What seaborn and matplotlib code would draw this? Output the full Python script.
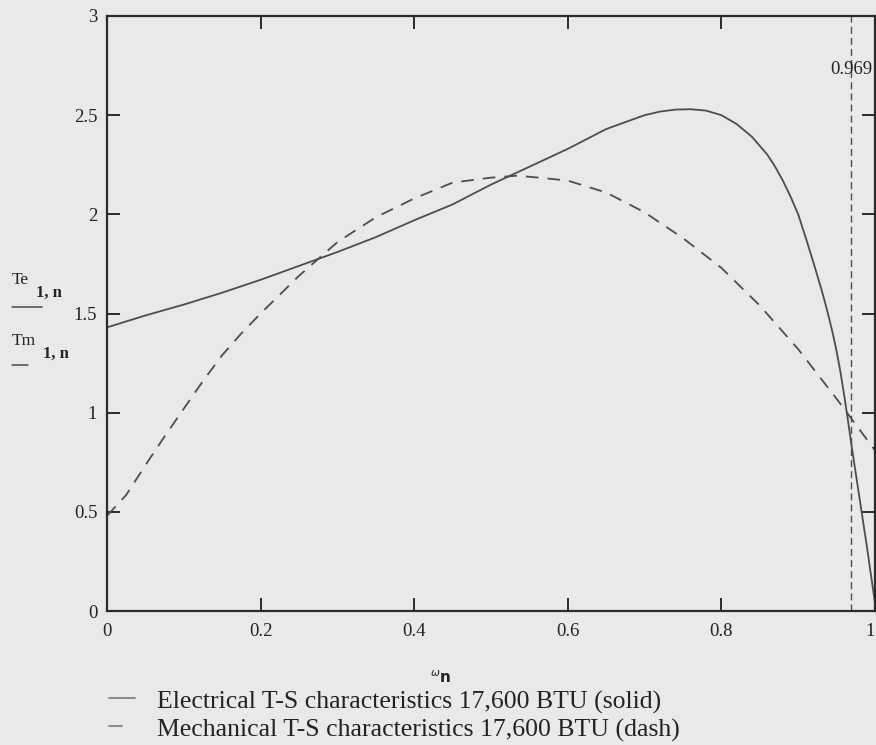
import numpy as np
import pandas as pd
import matplotlib
matplotlib.use("Agg")
import matplotlib.pyplot as plt
from matplotlib.lines import Line2D
import seaborn as sns

# Normalised speed and torque samples
speed_el = [0.0, 0.05, 0.1, 0.15, 0.2, 0.25, 0.3, 0.35, 0.4, 0.45, 0.5, 0.55,
            0.6, 0.65, 0.7, 0.72, 0.74, 0.76, 0.78, 0.8, 0.82, 0.84, 0.86,
            0.87, 0.88, 0.89, 0.9, 0.91, 0.92, 0.93, 0.935, 0.94, 0.945, 0.95,
            0.955, 0.96, 0.965, 0.97, 0.98, 0.99, 1.0]
torque_el = [1.43, 1.49, 1.545, 1.605, 1.67, 1.74, 1.81, 1.885, 1.97, 2.05,
             2.15, 2.24, 2.33, 2.43, 2.50, 2.518, 2.528, 2.53, 2.523, 2.50,
             2.455, 2.39, 2.30, 2.24, 2.17, 2.09, 2.00, 1.88, 1.755, 1.625,
             1.555, 1.48, 1.40, 1.31, 1.205, 1.085, 0.955, 0.82, 0.565, 0.31,
             0.04]

speed_mech = [0.0, 0.025, 0.05, 0.075, 0.1, 0.125, 0.15, 0.175, 0.2, 0.25, 0.3,
              0.35, 0.4, 0.45, 0.5, 0.535, 0.575, 0.6, 0.65, 0.7, 0.75, 0.8,
              0.85, 0.9, 0.95, 1.0]
torque_mech = [0.48, 0.585, 0.735, 0.88, 1.02, 1.16, 1.29, 1.40, 1.50, 1.69,
               1.86, 1.985, 2.08, 2.16, 2.185, 2.195, 2.18, 2.17, 2.11, 2.01,
               1.88, 1.73, 1.54, 1.32, 1.07, 0.81]

operating_speed = 0.969

x_ticks = [0, 0.2, 0.4, 0.6, 0.8, 1]
x_ticklabels = ["0", "0.2", "0.4", "0.6", "0.8", "1"]
y_ticks = [0, 0.5, 1, 1.5, 2, 2.5, 3]
y_ticklabels = ["0", "0.5", "1", "1.5", "2", "2.5", "3"]

legend_labels = ["Electrical T-S characteristics 17,600 BTU (solid)",
                 "Mechanical T-S characteristics 17,600 BTU (dash)"]

W, H = 876, 745
BG = "#e9e9e9"
INK = "#222222"
CURVE = "#4d4d4d"

sns.set_theme(style="white")
plt.rcParams["font.family"] = ["Liberation Serif", "DejaVu Serif"]
plt.rcParams["mathtext.fontset"] = "dejavusans"

fig = plt.figure(figsize=(W / 100, H / 100), dpi=100, facecolor=BG)


def fx(px):
    return px / W


def fy(py):
    return 1 - py / H


ax = fig.add_axes([fx(107), fy(611), fx(875) - fx(107), fy(16) - fy(611)])
ax.set_facecolor(BG)

df_el = pd.DataFrame({"speed": speed_el, "torque": torque_el})
df_mech = pd.DataFrame({"speed": speed_mech, "torque": torque_mech})

sns.lineplot(data=df_el, x="speed", y="torque", ax=ax, color=CURVE,
             linewidth=1.3, sort=False, estimator=None)
sns.lineplot(data=df_mech, x="speed", y="torque", ax=ax, color=CURVE,
             linewidth=1.3, sort=False, estimator=None,
             linestyle=(0, (7, 5)))

ax.axvline(operating_speed, color=CURVE, linewidth=1.0,
           linestyle=(0, (5, 3)))
ax.text(operating_speed, 2.73, f"{operating_speed:.3f}", ha="center",
        va="center", fontsize=13.5, color=INK)

ax.set_xlim(0, 1)
ax.set_ylim(0, 3)
ax.set_xticks(x_ticks)
ax.set_xticklabels(x_ticklabels)
ax.set_yticks(y_ticks)
ax.set_yticklabels(y_ticklabels)
ax.tick_params(direction="in", length=9.5, width=1.4, color="#2a2a2a",
               labelsize=13.5, labelcolor=INK, top=True, right=True,
               bottom=True, left=True)
ax.tick_params(axis="x", pad=9)
ax.tick_params(axis="y", pad=7)
# keep the last x label inside the canvas
ax.get_xticklabels()[-1].set_horizontalalignment("right")
for sp in ax.spines.values():
    sp.set_visible(True)
    sp.set_color("#2a2a2a")
    sp.set_linewidth(1.6)
ax.set_xlabel("")
ax.set_ylabel("")

# x-axis quantity name
fig.text(fx(441), fy(678), r"${}^{\omega}\mathbf{n}$", ha="center",
         va="center", fontsize=11, color=INK)

# stacked y-axis quantity names with their trace keys
fig.text(fx(12), fy(284), "Te", fontsize=12.5, color=INK, va="baseline")
fig.text(fx(36), fy(297), "1, n", fontsize=12, color=INK, va="baseline",
         fontweight="bold")
fig.add_artist(Line2D([fx(12), fx(42)], [fy(307), fy(307)], color="#555555",
                      linewidth=1.2))
fig.text(fx(12), fy(345), "Tm", fontsize=12.5, color=INK, va="baseline")
fig.text(fx(43), fy(358), "1, n", fontsize=12, color=INK, va="baseline",
         fontweight="bold")
fig.add_artist(Line2D([fx(12), fx(28)], [fy(365), fy(365)], color="#555555",
                      linewidth=1.2))

# trace descriptions under the plot
for i, label in enumerate(legend_labels):
    yc = 702 + 28 * i
    key_end = 135 if i == 0 else 122
    fig.add_artist(Line2D([fx(109), fx(key_end)], [fy(yc - 4), fy(yc - 4)],
                          color="#777777", linewidth=1.2))
    fig.text(fx(157), fy(yc), label, fontsize=18.5, color=INK,
             va="center", ha="left")

fig.savefig("out.png", dpi=100, facecolor=BG)
